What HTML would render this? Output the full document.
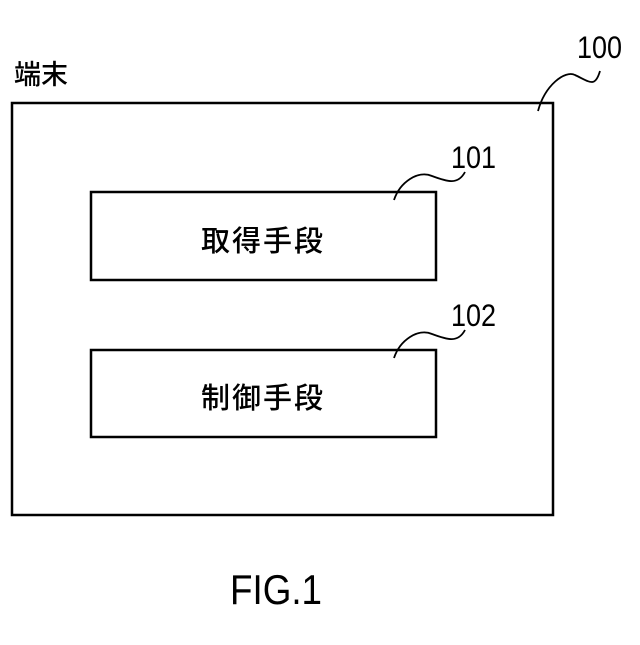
<!DOCTYPE html>
<html><head><meta charset="utf-8"><style>
body{margin:0;background:#fff;width:640px;height:640px;overflow:hidden}
</style></head><body>
<svg width="640" height="640" xmlns="http://www.w3.org/2000/svg" font-family="Liberation Sans, Noto Sans CJK JP, sans-serif">
<rect x="12" y="103" width="541" height="412" fill="none" stroke="#000" stroke-width="2.5"/>
<rect x="91" y="192" width="345" height="88" fill="none" stroke="#000" stroke-width="2.5"/>
<rect x="91" y="350" width="345" height="87" fill="none" stroke="#000" stroke-width="2.5"/>
<text x="14" y="84" font-size="27" font-weight="500">端末</text>
<text transform="translate(577,58) scale(1,1.15)" font-size="27">100</text>
<text transform="translate(451,168) scale(1,1.15)" font-size="27">101</text>
<text transform="translate(451,326) scale(1,1.15)" font-size="27">102</text>
<text x="263" y="251" font-size="29" font-weight="500" text-anchor="middle" letter-spacing="2">取得手段</text>
<text x="263" y="408" font-size="29" font-weight="500" text-anchor="middle" letter-spacing="2">制御手段</text>
<text transform="translate(276,604) scale(0.92,1.05)" font-size="40" text-anchor="middle">FIG.1</text>
<g fill="none" stroke="#000" stroke-width="1.8">
<path d="M538,111 C545,85 565,70 575,75 C590,82 595,88 600,71"/>
<path d="M394,200 C400,182 418,170 432,176 C448,182 458,185 465,172"/>
<path d="M394,358 C400,340 418,328 432,334 C448,340 458,343 465,330"/>
</g>
</svg>
</body></html>
